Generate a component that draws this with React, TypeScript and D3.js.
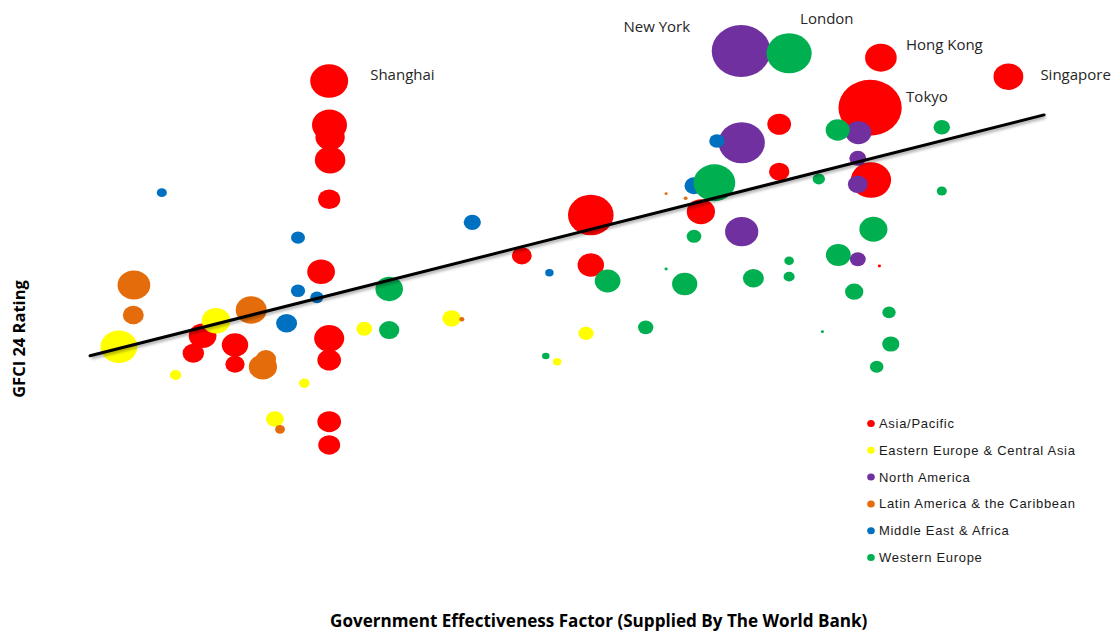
import React from 'react';
import * as d3 from 'd3';

const regionNames = [
  'Asia/Pacific',
  'Eastern Europe & Central Asia',
  'North America',
  'Latin America & the Caribbean',
  'Middle East & Africa',
  'Western Europe',
];
const regionColors = ['#FF0000', '#FFFF00', '#7030A0', '#E46C0A', '#0070C0', '#00B050'];

// [government effectiveness, GFCI 24 rating, bubble size]
const asiaPacific = [
  [-0.236, 779.3, 282], [-0.235, 750.0, 240], [-0.233, 742.0, 169], [-0.233, 726.7, 182],
  [-0.236, 700.5, 96], [-0.263, 652.2, 151], [-0.658, 609.5, 151], [-0.689, 597.8, 90],
  [-0.55, 603.3, 137], [-0.55, 590.5, 72], [-0.236, 607.8, 177], [-0.236, 593.3, 110],
  [-0.236, 552.2, 110], [-0.236, 536.7, 94], [0.406, 662.9, 77], [0.636, 690.0, 408],
  [0.636, 656.7, 137], [1.003, 692.2, 156], [1.264, 750.5, 110], [1.264, 718.9, 81],
  [1.603, 794.9, 196], [2.028, 782.2, 174], [1.567, 761.5, 784], [1.57, 713.3, 317],
  [1.598, 656.0, 2],
];
const easternEurope = [
  [-0.937, 602.2, 266], [-0.613, 619.5, 161], [-0.748, 583.3, 25], [-0.319, 577.8, 22],
  [-0.417, 554.0, 62], [-0.119, 614.2, 49], [0.172, 621.1, 67], [0.62, 611.1, 45],
  [0.524, 592.2, 14],
];
const northAmerica = [
  [1.137, 799.3, 676], [1.139, 738.2, 420], [1.139, 678.9, 216], [1.528, 744.9, 132],
  [1.526, 727.8, 56], [1.526, 710.5, 77], [1.526, 660.5, 49],
];
const latinAmerica = [
  [-0.887, 643.3, 210], [-0.889, 623.3, 86], [-0.496, 626.7, 188], [-0.457, 588.7, 156],
  [-0.447, 594.0, 81], [-0.4, 547.1, 19], [0.206, 620.5, 5], [0.887, 704.2, 2],
  [0.952, 701.1, 3],
];
const middleEastAfrica = [
  [-0.794, 704.9, 20], [-0.34, 674.9, 38], [-0.34, 639.5, 40], [-0.277, 635.1, 34],
  [-0.378, 617.8, 86], [0.241, 685.1, 58], [0.498, 651.5, 14], [1.056, 739.3, 45],
  [0.98, 709.5, 71],
];
const westernEurope = [
  [1.297, 797.8, 400], [-0.036, 640.7, 149], [-0.036, 613.3, 81], [0.692, 646.0, 130],
  [0.887, 654.0, 2], [0.949, 644.0, 125], [1.178, 647.8, 86], [0.819, 615.1, 46],
  [0.486, 596.0, 11], [1.048, 711.5, 342], [0.98, 675.8, 42], [1.459, 746.7, 114],
  [1.806, 748.5, 53], [1.396, 714.0, 30], [1.806, 706.0, 20], [1.578, 680.5, 154],
  [1.461, 663.3, 121], [1.297, 659.5, 18], [1.297, 648.9, 24], [1.514, 638.9, 66],
  [1.63, 625.1, 35], [1.408, 612.2, 2], [1.636, 604.0, 58], [1.589, 588.9, 36],
];
const seriesData = [asiaPacific, easternEurope, northAmerica, latinAmerica, middleEastAfrica, westernEurope];

// labelled cities: [name, series index, point index]
const cityLabels: [string, number, number][] = [
  ['Shanghai', 0, 0],
  ['New York', 2, 0],
  ['London', 5, 0],
  ['Hong Kong', 0, 20],
  ['Tokyo', 0, 22],
  ['Singapore', 0, 21],
];

// linear trend: rating = a + b * effectiveness
const trendCoef = [648.3, 50.5];
const trendExtent = [-1.033, 2.147];

const xTitle = 'Government Effectiveness Factor (Supplied By The World Bank)';
const yTitle = 'GFCI 24 Rating';

const W = 1114;
const H = 632;

const labelStyle: Record<string, { dx: number; dy: number; anchor: string }> = {
  'Shanghai': { dx: 41, dy: -6, anchor: 'start' },
  'New York': { dx: -51, dy: -24, anchor: 'end' },
  'London': { dx: 11, dy: -35, anchor: 'start' },
  'Hong Kong': { dx: 25, dy: -13, anchor: 'start' },
  'Tokyo': { dx: 36, dy: -11, anchor: 'start' },
  'Singapore': { dx: 32, dy: -2, anchor: 'start' },
};

export default function App() {
  const x = d3.scaleLinear().domain([-1, 2]).range([100, 1000]);
  const y = d3.scaleLinear().domain([500, 800]).range([500, 50]);
  const r = d3.scaleSqrt().domain([0, 900]).range([0, 30]);
  const aspect = 1.13;

  const trendLine = d3
    .line<number>()
    .x((v) => x(v))
    .y((v) => y(trendCoef[0] + trendCoef[1] * v));

  const legendY = d3.scaleLinear().domain([0, 5]).range([423.5, 557.5]);

  return (
    <div style={{ position: 'absolute', left: 0, top: 0 }}>
      <svg width={W} height={H} viewBox={`0 0 ${W} ${H}`} style={{ display: 'block', background: '#fff' }}>
        <defs>
          <filter id="shadow" x="-5%" y="-50%" width="110%" height="200%">
            <feGaussianBlur stdDeviation="1.5" />
          </filter>
        </defs>
        <rect width={W} height={H} fill="#fff" />
        {seriesData.map((pts, si) => (
          <g key={si}>
            {pts.map((p, i) => (
              <ellipse
                key={i}
                cx={x(p[0])}
                cy={y(p[1])}
                rx={r(p[2]) * aspect}
                ry={r(p[2])}
                fill={regionColors[si]}
              />
            ))}
          </g>
        ))}
        <path
          d={trendLine(trendExtent) || ''}
          transform="translate(1.5,2)"
          stroke="#000"
          strokeOpacity={0.35}
          strokeWidth={3}
          fill="none"
          filter="url(#shadow)"
        />
        <path d={trendLine(trendExtent) || ''} stroke="#000" strokeWidth={3} fill="none" strokeLinecap="round" />
        {cityLabels.map(([name, si, pi]) => {
          const p = seriesData[si][pi];
          const s = labelStyle[name];
          return (
            <text
              key={name}
              x={x(p[0]) + s.dx}
              y={y(p[1]) + s.dy}
              dy="0.35em"
              textAnchor={s.anchor}
              fontFamily="'Open Sans', sans-serif"
              fontSize={15}
              fill="#262626"
            >
              {name}
            </text>
          );
        })}
        {regionNames.map((name, i) => (
          <g key={name} transform={`translate(0,${legendY(i)})`}>
            <ellipse cx={871} cy={0} rx={3.8} ry={3.5} fill={regionColors[i]} />
            <text
              x={879}
              y={0}
              dy="0.35em"
              fontFamily="'Liberation Sans', Arial, sans-serif"
              fontSize={13}
              letterSpacing={0.7}
              fill="#1a1a1a"
            >
              {name}
            </text>
          </g>
        ))}
        <text
          x={330}
          y={627}
          fontFamily="'Open Sans', sans-serif"
          fontWeight="bold"
          fontSize={17.1}
          fill="#000"
        >
          {xTitle}
        </text>
        <text
          transform="translate(25,339) rotate(-90)"
          textAnchor="middle"
          fontFamily="'Open Sans', sans-serif"
          fontWeight="bold"
          fontSize={16.5}
          fill="#000"
        >
          {yTitle}
        </text>
      </svg>
    </div>
  );
}
